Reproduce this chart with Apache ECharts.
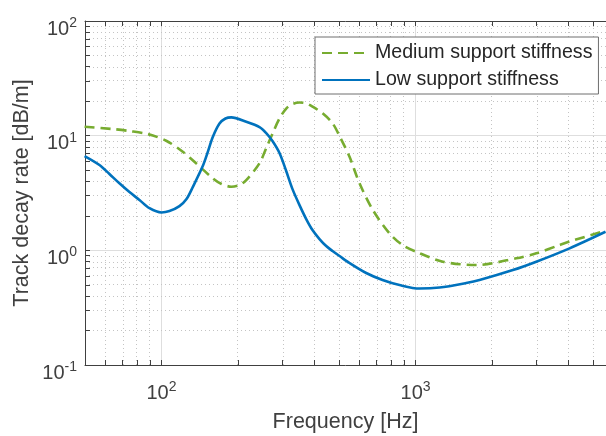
<!DOCTYPE html>
<html><head><meta charset="utf-8">
<script src="https://cdn.jsdelivr.net/npm/echarts@6/dist/echarts.min.js"></script>
<style>html,body{margin:0;padding:0;background:#fff}#c{width:606px;height:436px}</style>
</head><body><div id="c"></div>
<script>
// ---- data ----
const lowFreq = [49.8, 57.0, 62.4, 68.3, 74.8, 81.9, 89.7, 100, 107.5, 117.7, 125.5, 132.8, 145.4, 151.7, 159.2, 169.2, 178.6, 188.2, 215.6, 243.1, 258.4, 273.5, 291.4, 309.7, 327.9, 349.4, 371.3, 393.0, 418.8, 445.0, 471.2, 502.2, 549.8, 639.5, 741.6, 865.0, 1037, 1243, 1583, 1786, 2416, 2987, 4039, 5598];
const lowRate = [6.64, 5.55, 4.63, 3.84, 3.22, 2.75, 2.33, 2.14, 2.20, 2.43, 2.80, 3.56, 5.43, 7.06, 9.73, 12.76, 14.11, 14.45, 13.23, 11.89, 10.54, 8.98, 7.06, 4.92, 3.42, 2.48, 1.875, 1.503, 1.254, 1.090, 0.986, 0.892, 0.775, 0.634, 0.551, 0.498, 0.464, 0.474, 0.519, 0.551, 0.673, 0.796, 1.041, 1.453];
const medFreq = [49.8, 64.3, 74.8, 88.3, 104.4, 121.3, 136.9, 159.2, 172.3, 188.2, 202.8, 215.6, 243.1, 258.4, 274.3, 291.4, 309.7, 327.9, 349.4, 371.3, 393.0, 430.8, 471.6, 506.7, 549.8, 601.9, 679.0, 789.9, 888.8, 1006, 1281, 1734, 2491, 2987, 3689, 4039, 5598];
const medRate = [11.96, 11.42, 10.97, 10.33, 9.03, 7.24, 5.74, 4.25, 3.79, 3.59, 3.71, 4.10, 5.74, 7.80, 10.54, 14.11, 17.25, 18.88, 19.45, 19.14, 17.95, 15.66, 12.81, 9.54, 6.55, 3.84, 2.25, 1.406, 1.112, 0.972, 0.796, 0.744, 0.852, 0.942, 1.112, 1.193, 1.482];
const seriesNames = ['Medium support stiffness', 'Low support stiffness'];
const xLabelExponents = [2, 3];
const xLimits = [50, 5620];
const yLimits = [0.1, 100];
const xTitle = 'Frequency [Hz]';
const yTitle = 'Track decay rate [dB/m]';

// ---- helpers ----
const L = Math.log10;
const xMin = L(xLimits[0]), xMax = L(xLimits[1]);
const yMin = L(yLimits[0]), yMax = L(yLimits[1]);
function logPositions(lo, hi) {
  const major = [], minor = [];
  for (let d = Math.floor(lo) - 1; d <= Math.ceil(hi); d++) {
    for (let k = 1; k <= 9; k++) {
      const v = d + L(k);
      if (v < lo - 1e-9 || v > hi + 1e-9) continue;
      if (k === 1) major.push(v); else minor.push(v);
    }
  }
  return { major, minor };
}
const xPos = logPositions(xMin, xMax);
const yPos = logPositions(yMin, yMax);
const FONT = "'Liberation Sans', Arial, Helvetica, sans-serif";
const TXT = '#404040';
const fmt = v => '{b|10}{s|' + Math.round(v) + '}';
const rich = {
  b: { fontSize: 20, fontFamily: FONT, color: TXT, verticalAlign: 'bottom', lineHeight: 24 },
  s: { fontSize: 14, fontFamily: FONT, color: TXT, verticalAlign: 'bottom', lineHeight: 24, padding: [0, 0, 9, 0] }
};
const majorStyle = { color: '#dedede', type: 'solid', width: 1 };
const minorStyle = { color: '#c4c4c4', type: [1, 3], width: 1 };
const gridLines = [];
xPos.major.forEach(v => { if (v > xMin + 1e-6) gridLines.push({ xAxis: v, lineStyle: majorStyle }); });
xPos.minor.forEach(v => gridLines.push({ xAxis: v, lineStyle: minorStyle }));
yPos.major.forEach(v => { if (v > yMin + 1e-6 && v < yMax - 1e-6) gridLines.push({ yAxis: v, lineStyle: majorStyle }); });
yPos.minor.forEach(v => gridLines.push({ yAxis: v, lineStyle: minorStyle }));

const allX = xPos.major.concat(xPos.minor);
const allY = yPos.major.concat(yPos.minor);
const axisColor = '#404040';

const chart = echarts.init(document.getElementById('c'), null, { renderer: 'canvas' });
chart.setOption({
  animation: false,
  backgroundColor: '#fff',
  grid: { left: 85, right: 0, top: 21, bottom: 71, containLabel: false, outerBoundsMode: 'none' },
  legend: {
    data: seriesNames,
    orient: 'vertical',
    left: 315, top: 37,
    padding: [6, 6, 4, 6],
    itemWidth: 48, itemHeight: 20, itemGap: 7, itemTextGap: 5,
    itemStyle: { opacity: 0 },
    backgroundColor: '#fff',
    borderColor: '#6e6e6e', borderWidth: 1,
    textStyle: { fontSize: 19.6, fontFamily: FONT, color: '#262626', lineHeight: 20 }
  },
  xAxis: [{
    type: 'value', min: xMin, max: xMax,
    name: xTitle, nameLocation: 'middle', nameGap: 46,
    nameTextStyle: { fontSize: 21.5, fontFamily: FONT, color: TXT },
    axisLine: { show: true, onZero: false, lineStyle: { color: axisColor, width: 1 } },
    axisTick: { show: true, inside: true, length: 5, customValues: allX, lineStyle: { color: axisColor } },
    axisLabel: { customValues: xLabelExponents, formatter: fmt, rich: rich, margin: 14 },
    splitLine: { show: false }
  }, {
    type: 'value', min: xMin, max: xMax, position: 'top',
    axisLine: { show: true, onZero: false, lineStyle: { color: axisColor, width: 1 } },
    axisTick: { show: true, inside: true, length: 5, customValues: allX, lineStyle: { color: axisColor } },
    axisLabel: { show: false },
    splitLine: { show: false }
  }],
  yAxis: {
    type: 'value', min: yMin, max: yMax, interval: 1,
    name: yTitle, nameLocation: 'middle', nameGap: 52, nameMoveOverlap: false,
    nameTextStyle: { fontSize: 21.5, fontFamily: FONT, color: TXT },
    axisLine: { show: true, onZero: false, lineStyle: { color: axisColor, width: 1 } },
    axisTick: { show: true, inside: true, length: 5, customValues: allY, lineStyle: { color: axisColor } },
    axisLabel: { formatter: fmt, rich: rich, margin: 8, padding: [12, 0, 0, 0] },
    splitLine: { show: false }
  },
  series: [{
    name: '_grid', type: 'line', data: [], silent: true, z: 0,
    markLine: { silent: true, z: 0, symbol: ['none', 'none'], label: { show: false }, emphasis: { disabled: true }, data: gridLines }
  }, {
    name: seriesNames[0], type: 'line', smooth: 0.3, showSymbol: false, symbol: 'none', z: 3,
    lineStyle: { color: '#77AC30', width: 2.6, type: [10, 6] },
    itemStyle: { color: '#77AC30' },
    data: medFreq.map((f, i) => [L(f), L(medRate[i])])
  }, {
    name: seriesNames[1], type: 'line', smooth: 0.3, showSymbol: false, symbol: 'none', z: 4,
    lineStyle: { color: '#0072BD', width: 2.6 },
    itemStyle: { color: '#0072BD' },
    data: lowFreq.map((f, i) => [L(f), L(lowRate[i])])
  }]
});
</script></body></html>
